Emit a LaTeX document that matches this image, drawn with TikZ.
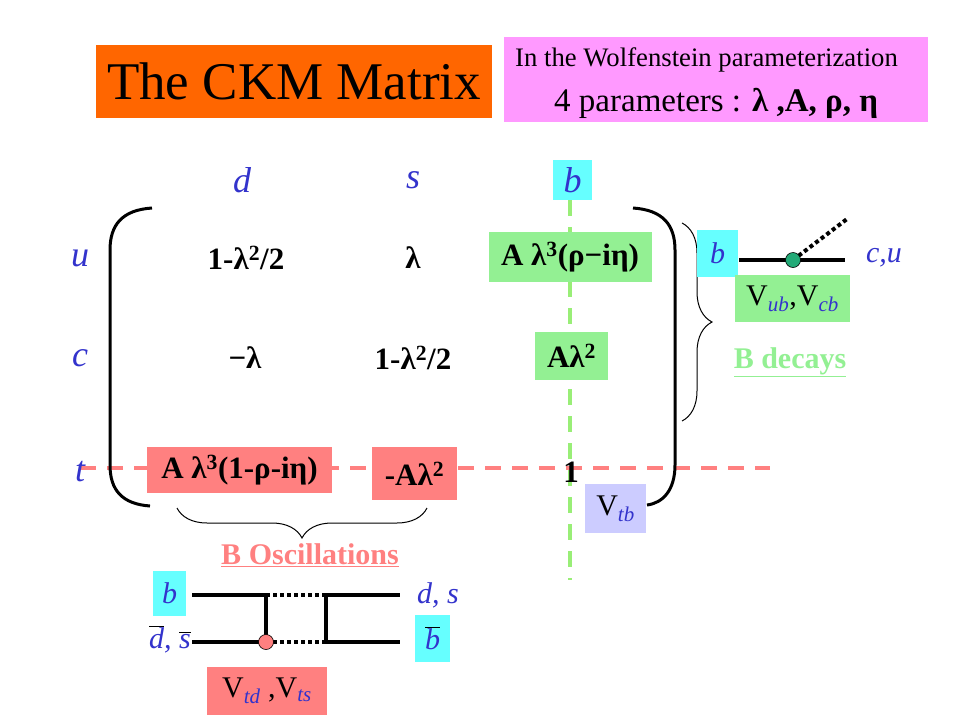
\documentclass[tikz,border=0pt]{standalone}
\usepackage{fontspec}
\setmainfont{Liberation Serif}
\usepackage{xcolor}
\usetikzlibrary{calc}
\usetikzlibrary{positioning}
\usetikzlibrary{decorations.pathreplacing}

\definecolor{titleorange}{HTML}{FF6600}
\definecolor{parampink}{HTML}{FF99FF}
\definecolor{quarkblue}{HTML}{3333CC}
\definecolor{bcyan}{HTML}{66FFFF}
\definecolor{decaygreen}{HTML}{93F093}
\definecolor{oscred}{HTML}{FF8080}
\definecolor{tblue}{HTML}{CCCCFF}
\definecolor{dashgreen}{HTML}{99EE77}
\definecolor{vertexgreen}{HTML}{22AA77}

\newcommand{\fsize}[1]{\fontsize{#1}{#1}\selectfont}
\newcommand{\quark}[1]{\textcolor{quarkblue}{\itshape #1}}
\newcommand{\antiquark}[1]{$\overline{\mbox{\quark{#1}}}$}
\newcommand{\Vel}[1]{V\textsubscript{\quark{#1}}}

\tikzset{
  box/.style={inner sep=0pt, outer sep=0pt, align=center},
  entry/.style={font=\fsize{31}\bfseries},
  label/.style={font=\fsize{36}\itshape, text=quarkblue},
  quarkline/.style={line width=4pt},
  wline/.style={line width=4pt, dash pattern=on 4pt off 3pt},
  paren/.style={line width=3pt},
  brace/.style={decorate, decoration={brace, amplitude=30pt}, line width=1pt},
  gridline/.style={line width=4pt, dash pattern=on 16pt off 11pt}
}

\begin{document}
\begin{tikzpicture}[x=1pt, y=-1pt]
  \useasboundingbox (0,0) rectangle (960,720);

  % title and parameters
  \node[box, fill=titleorange, minimum width=396pt, minimum height=73pt,
    font=\fsize{53}] (title) at (294,81.5) {The CKM Matrix};
  \node[box, fill=parampink, minimum width=424pt, minimum height=85pt] (params) at (716,79.5) {};
  \node[anchor=base west, inner sep=0pt, font=\fsize{26.7}] (wolf) at (515,66)
    {In the Wolfenstein parameterization};
  \node[anchor=base west, inner sep=0pt, font=\fsize{33}] (four) at (554,111)
    {4 parameters : \textbf{λ ,A, ρ, η}};

  % dashed guide lines
  \coordinate (gtop) at (570,200);
  \coordinate (gbot) at (570,580);
  \coordinate (rleft) at (80,468);
  \coordinate (rright) at (770,468);
  \draw[gridline, dashgreen] (gtop) -- (gbot);
  \draw[gridline, oscred] (rleft) -- (rright);

  % column and row labels
  \node[label] (cd) at (242,180) {d};
  \node[label] (cs) at (413,180) {s};
  \node[box, fill=bcyan, minimum width=39pt, minimum height=40pt, label] (cb) at (572.5,180) {b};
  \foreach \q/\y in {u/258, c/358, t/472} {
    \node[label] (row\q) at (80,\y) {\q};
  }

  % parentheses
  \draw[paren] (152,208) .. controls (122,210) and (110,225) .. (110,250)
    -- (110,465) .. controls (110,490) and (122,504) .. (150,506);
  \draw[paren] (633,208) .. controls (663,210) and (675,225) .. (675,250)
    -- (675,465) .. controls (675,490) and (663,503) .. (647,505);

  % matrix entries
  \node[entry] (Vud) at (246,258) {1-λ\textsuperscript{2}/2};
  \node[entry] (Vus) at (413,258) {λ};
  \node[entry, box, fill=decaygreen, minimum width=163pt, minimum height=50pt]
    (Vub) at (570,257) {A λ\textsuperscript{3}(ρ−iη)};
  \node[entry] (Vcd) at (245,358) {−λ};
  \node[entry] (Vcs) at (413,358) {1-λ\textsuperscript{2}/2};
  \node[entry, box, fill=decaygreen, minimum width=73pt, minimum height=48pt]
    (Vcb) at (571.5,356) {Aλ\textsuperscript{2}};
  \node[entry, box, fill=oscred, minimum width=185pt, minimum height=46pt]
    (Vtd) at (239.5,470) {A λ\textsuperscript{3}(1-ρ-iη)};
  \node[entry, box, fill=oscred, minimum width=85pt, minimum height=53pt]
    (Vts) at (414.5,473.5) {-Aλ\textsuperscript{2}};
  \node[entry] (Vtb) at (571,472) {1};
  \node[box, fill=tblue, minimum width=61pt, minimum height=49pt, font=\fsize{30}]
    (Vtbname) at (615.5,508.5) {\Vel{tb}};

  % B decays
  \draw[brace] (682,223) -- (682,421);
  \node[box, fill=bcyan, minimum width=41pt, minimum height=47pt, label, font=\fsize{30}\itshape]
    (bdec) at (717.5,253.5) {b};
  \coordinate (bin) at (739,260);
  \coordinate (bvtx) at (793,260);
  \coordinate (bout) at (845,260);
  \coordinate (wout) at (847,219);
  \draw[quarkline] (bin) -- (bout);
  \draw[wline] (bvtx) -- (wout);
  \node[circle, fill=vertexgreen, draw=black, line width=0.6pt, minimum size=15pt, inner sep=0pt]
    (vtxdec) at (bvtx) {};
  \node[label, font=\fsize{30}\itshape] (cu) at (884,258) {c,u};
  \node[box, fill=decaygreen, minimum width=115pt, minimum height=47pt, font=\fsize{30}]
    (Vubcb) at (792.5,298.5) {\Vel{ub},\Vel{cb}};
  \node[font=\fsize{30}\bfseries, text=decaygreen] (decays) at (790,362)
    {\underline{B decays}};

  % B oscillations
  \draw[brace] (427,508) -- (177,508);
  \node[font=\fsize{30}\bfseries, text=oscred] (osc) at (310,555)
    {\underline{B Oscillations}};
  \node[box, fill=bcyan, minimum width=33pt, minimum height=45pt, label, font=\fsize{30}\itshape]
    (bosc) at (169.5,593.5) {b};
  \node[anchor=base east, inner sep=0pt, font=\fsize{30}] (dsbar) at (191,648)
    {\antiquark{d}\quark{, }\antiquark{s}};
  \node[anchor=base, inner sep=0pt, font=\fsize{30}] (ds) at (438,603) {\quark{d, s}};
  \node[box, fill=bcyan, minimum width=35pt, minimum height=47pt, font=\fsize{30}]
    (bbar) at (432.5,638.5) {\antiquark{b}};
  \foreach \n/\y in {top/595, bot/642} {
    \coordinate (\n a) at (192,\y);
    \coordinate (\n b) at (266,\y);
    \coordinate (\n c) at (326,\y);
    \coordinate (\n d) at (400,\y);
    \draw[quarkline] (\n a) -- (\n b);
    \draw[wline] (\n b) -- (\n c);
    \draw[quarkline] (\n c) -- (\n d);
  }
  \draw[quarkline] (topb) -- (botb);
  \draw[quarkline] (topc) -- (botc);
  \node[circle, fill=oscred, draw=black, line width=0.6pt, minimum size=15pt, inner sep=0pt]
    (vtxosc) at (botb) {};
  \node[box, fill=oscred, minimum width=120pt, minimum height=48pt, font=\fsize{30}]
    (Vtdts) at (267,691) {\Vel{td} ,\Vel{ts}};

\end{tikzpicture}
\end{document}
